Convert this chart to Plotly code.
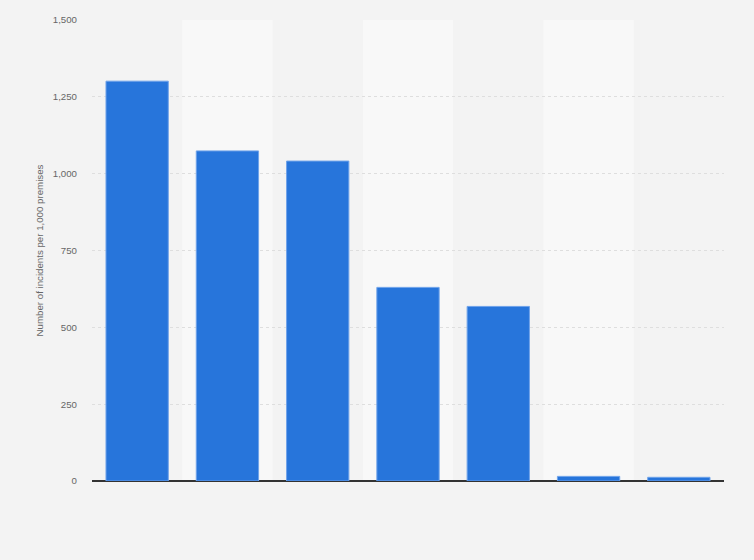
import plotly.graph_objects as go

# Données (libellés des catégories absents de l'image)
categories = ["c1", "c2", "c3", "c4", "c5", "c6", "c7"]
incidents = [1301, 1074, 1041, 630, 568, 15, 12]

y_ticks = [0, 250, 500, 750, 1000, 1250, 1500]
y_labels = ["0", "250", "500", "750", "1,000", "1,250", "1,500"]

COLORS = {
    'bar': '#2775db',
    'bar_line': '#6fa3ea',
    'paper': '#f3f3f3',
    'band': '#f8f8f8',
    'text': '#666666',
    'grid': '#dedede',
}

fig = go.Figure()

fig.add_trace(go.Bar(
    x=categories,
    y=incidents,
    marker=dict(color=COLORS['bar'], line=dict(color=COLORS['bar_line'], width=1)),
    hoverinfo='y',
))

# bandes alternées derrière les colonnes paires
for i in range(1, len(categories), 2):
    fig.add_shape(
        type="rect", xref="x", yref="paper",
        x0=i - 0.5, x1=i + 0.5, y0=0, y1=1,
        fillcolor=COLORS['band'], line_width=0, layer="below",
    )

fig.update_layout(
    width=754,
    height=560,
    margin=dict(l=92, r=30, t=20, b=79),
    paper_bgcolor=COLORS['paper'],
    plot_bgcolor=COLORS['paper'],
    bargap=0.31,
    showlegend=False,
    font=dict(family="Liberation Sans, Arial, sans-serif", size=10, color=COLORS['text']),
)

fig.update_xaxes(
    showticklabels=False,
    showgrid=False,
    ticks="",
    showline=False,
    zeroline=False,
)

fig.update_yaxes(
    range=[0, 1500],
    tickvals=y_ticks,
    ticktext=y_labels,
    tickfont=dict(size=9.7, color=COLORS['text']),
    showgrid=True,
    gridcolor=COLORS['grid'],
    griddash="dot",
    gridwidth=1,
    zeroline=True,
    zerolinecolor="#333333",
    zerolinewidth=1.5,
    ticks="",
    ticklabelstandoff=14,
    title=dict(text="Number of incidents per 1,000 premises",
               font=dict(size=9.7, color=COLORS['text']), standoff=7),
)

fig.write_html(
    "out.html",
    config={'displayModeBar': False},
    post_script="document.body.style.margin='0';",
)
